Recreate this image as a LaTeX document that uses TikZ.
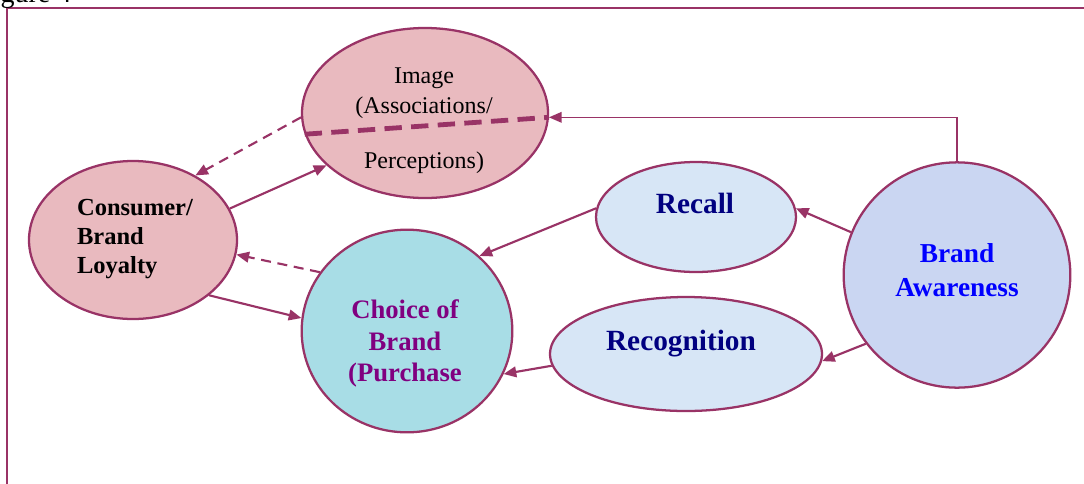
\documentclass[tikz,border=0pt]{standalone}
\usepackage{fontspec}
\setmainfont{Liberation Serif}
\usetikzlibrary{shapes.geometric,arrows.meta}
\definecolor{plum}{HTML}{993366}
\definecolor{rosefill}{RGB}{233,186,191}
\definecolor{aquafill}{RGB}{168,221,230}
\definecolor{icefill}{RGB}{215,230,246}
\definecolor{lilacfill}{RGB}{202,214,242}
\definecolor{navytext}{HTML}{000080}
\definecolor{purpletext}{HTML}{800080}
\begin{document}
\begin{tikzpicture}
[
x=0.75pt, y=-0.75pt,
oval/.style={ellipse, draw=plum, line width=1.7pt, inner sep=0},
roseoval/.style={oval, fill=rosefill},
iceoval/.style={oval, fill=icefill},
arrowline/.style={draw=plum, line width=1.6pt, -{Triangle[length=9.5pt,width=8pt]}},
dashline/.style={arrowline, dash pattern=on 7.5pt off 5pt}
]
\useasboundingbox (0,0) rectangle (1084,483);
%Frame
\draw[plum, line width=1.9pt] (7,495) -- (7,8) -- (1095,8);
\node[anchor=base east, font=\fontsize{21}{25}\selectfont] (cap) at (76,2.5) {Figure 4};

%Nodes
\node[roseoval, minimum width=184.5pt, minimum height=127.5pt] at(425,113)	(img) {};
\node[roseoval, minimum width=156pt, minimum height=118.5pt] at(133,240)	(loy) {};
\node[oval, fill=aquafill, minimum width=158pt, minimum height=152pt] at(407,331)	(cho) {};
\node[iceoval, minimum width=150pt, minimum height=82.5pt] at(696,217)	(rcl) {};
\node[iceoval, minimum width=204pt, minimum height=85.5pt] at(686,354)	(rcg) {};
\node[oval, fill=lilacfill, minimum width=170pt, minimum height=169pt] at(957,275)	(aw) {};

%Labels
\node[align=center, font=\fontsize{18}{22.5}\selectfont]		(imgt) at(424,120.5) {Image\\(Associations/\\[19pt]Perceptions)};
\node[align=left, font=\fontsize{18.4}{21.4}\selectfont\bfseries]	(loyt) at(135,239) {Consumer/\\Brand\\Loyalty};
\node[align=center, text=purpletext, font=\fontsize{20}{23.3}\selectfont\bfseries]	(chot) at(405,343.5) {Choice of\\Brand\\(Purchase};
\node[anchor=base, text=navytext, font=\fontsize{22}{26}\selectfont\bfseries]	(rclt) at(695,213) {Recall};
\node[anchor=base, text=navytext, font=\fontsize{22}{26}\selectfont\bfseries]	(rcgt) at(681,350) {Recognition};
\node[align=center, text=blue, font=\fontsize{20.5}{25.5}\selectfont\bfseries]	(awt) at(957,270) {Brand\\Awareness};

%Connectors
\draw[plum, line width=3.6pt, dash pattern=on 13pt off 7pt] (img.190) -- (img.-2);
\draw[draw=plum, line width=1pt, -{Triangle[length=9.5pt,width=8pt]}] (aw.north) |- (img.-2);
\draw[arrowline] (aw.158) -- (rcl.5);
\draw[arrowline] (aw.217) -- (rcg.-3);
\draw[arrowline] (rcl.175) -- (cho.46);
\draw[arrowline] (rcg.185) -- (cho.-24);
\draw[arrowline] (loy.18) -- (img.208);
\draw[arrowline] (loy.-36) -- (cho.173);
\draw[dashline] (cho.146) -- (loy.-8);
\draw[dashline] (img.182) -- (loy.46);

\end{tikzpicture}
\end{document}
